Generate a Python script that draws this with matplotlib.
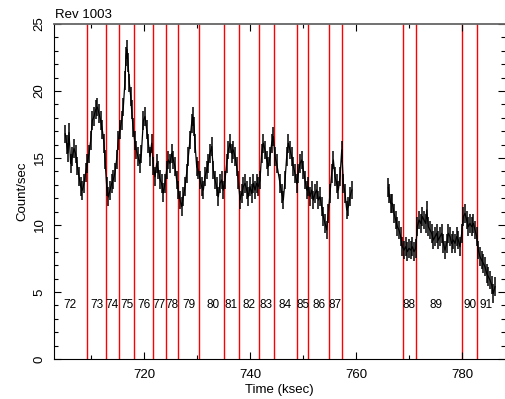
import matplotlib
matplotlib.use("Agg")
from matplotlib import pyplot as plt
from matplotlib.ticker import MultipleLocator

plt.rcParams['font.family'] = ['Liberation Sans', 'DejaVu Sans']

# light curve before the data gap (time in ksec, rate in count/sec)
time_a = [705.10, 705.35, 705.60, 705.79, 706.10, 706.42, 706.73, 707.05, 707.36, 707.68,
          707.99, 708.31, 708.62, 708.93, 709.25, 709.56, 709.88, 710.19, 710.51, 710.82,
          711.14, 711.45, 711.77, 712.08, 712.39, 712.58, 712.90, 713.21, 713.53, 713.84,
          714.15, 714.47, 714.78, 715.10, 715.41, 715.73, 716.04, 716.36, 716.54, 716.73,
          716.92, 717.17, 717.43, 717.61, 717.87, 718.18, 718.49, 718.81, 719.12, 719.44,
          719.82, 720.13, 720.44, 720.76, 721.07, 721.39, 721.70, 722.02, 722.33, 722.65,
          722.96, 723.27, 723.59, 723.90, 724.22, 724.53, 724.85, 725.16, 725.48, 725.79,
          726.10, 726.42, 726.73, 727.05, 727.36, 727.68, 727.99, 728.31, 728.62, 728.93,
          729.12, 729.38, 729.56, 729.88, 730.19, 730.51, 730.82, 731.14, 731.45, 731.77,
          732.08, 732.39, 732.71, 733.02, 733.34, 733.65, 733.97, 734.28, 734.60, 734.91,
          735.22, 735.54, 735.85, 736.17, 736.48, 736.80, 737.11, 737.43, 737.74, 738.05,
          738.37, 738.68, 739.00, 739.31, 739.63, 739.94, 740.26, 740.57, 740.88, 741.20,
          741.51, 741.83, 742.14, 742.46, 742.77, 743.09, 743.40, 743.72, 744.03, 744.35,
          744.66, 744.97, 745.60, 745.92, 746.23, 746.55, 746.86, 747.18, 747.49, 747.80,
          748.12, 748.43, 748.75, 749.06, 749.38, 749.69, 750.01, 750.32, 750.64, 750.95,
          751.26, 751.58, 751.89, 752.21, 752.52, 752.84, 753.15, 753.47, 753.78, 754.09,
          754.41, 754.72, 755.04, 755.35, 755.67, 755.98, 756.30, 756.61, 756.93, 757.24,
          757.55, 757.87, 758.18, 758.50, 758.81, 759.13]
rate_a = [16.8, 16.0, 15.4, 16.9, 14.6, 15.1, 15.7, 15.3, 14.4, 13.6,
          12.9, 12.6, 13.1, 13.9, 14.6, 15.3, 16.3, 17.8, 18.1, 18.6,
          18.8, 18.3, 17.8, 17.1, 16.1, 14.9, 12.9, 12.1, 12.6, 13.1,
          13.4, 13.9, 14.9, 16.3, 17.1, 17.8, 18.8, 20.8, 22.6, 23.1,
          22.1, 20.6, 19.6, 18.6, 17.3, 16.3, 15.6, 15.1, 14.6, 15.3,
          17.8, 18.1, 17.1, 16.1, 15.1, 16.1, 14.4, 13.6, 14.6, 14.1,
          13.4, 13.1, 12.4, 13.1, 14.1, 14.85, 14.6, 15.35, 14.85, 14.35,
          13.36, 12.61, 11.87, 11.37, 12.11, 12.86, 13.86, 15.10, 16.34, 17.59,
          18.08, 17.34, 16.10, 14.35, 14.10, 13.36, 12.86, 12.61, 13.61, 14.10,
          14.60, 15.35, 15.85, 14.10, 13.36, 12.86, 12.11, 13.11, 13.36, 12.61,
          13.36, 14.60, 15.60, 16.10, 15.35, 15.60, 15.10, 14.35, 13.36, 11.87,
          12.36, 12.86, 13.11, 12.61, 12.11, 12.86, 12.36, 13.11, 12.61, 13.11,
          12.86, 13.36, 15.35, 16.10, 15.60, 14.85, 14.35, 15.10, 16.10, 16.59,
          15.10, 14.60, 13.11, 12.36, 11.87, 13.36, 15.10, 16.10, 15.60, 15.10,
          14.35, 13.86, 13.11, 13.86, 14.60, 14.85, 14.10, 13.36, 12.61, 12.86,
          12.11, 12.61, 11.87, 12.36, 12.61, 11.87, 12.11, 11.37, 10.62, 10.12,
          9.63, 10.87, 12.36, 13.86, 14.85, 13.61, 13.11, 12.61, 13.61, 15.6,
          13.11, 12.36, 11.12, 11.37, 12.11, 12.61]

# light curve after the gap
time_b = [766.05, 766.17, 766.48, 766.80, 767.11, 767.43, 767.74, 768.05, 768.37, 768.68,
          769.00, 769.31, 769.63, 769.94, 770.26, 770.57, 770.88, 771.20, 771.51, 771.83,
          772.14, 772.46, 772.77, 773.09, 773.28, 773.59, 773.90, 774.22, 774.53, 774.85,
          775.16, 775.48, 775.79, 776.11, 776.42, 776.73, 777.05, 777.36, 777.68, 777.99,
          778.31, 778.62, 778.93, 779.25, 779.56, 779.88, 780.19, 780.50, 780.82, 781.13,
          781.45, 781.76, 782.08, 782.39, 782.71, 783.02, 783.33, 783.65, 783.96, 784.28,
          784.59, 784.91, 785.22, 785.54, 785.85, 786.16]
rate_b = [12.8, 12.36, 11.62, 11.62, 10.87, 10.37, 9.87, 9.63, 9.13, 8.38,
          8.13, 8.38, 8.01, 8.26, 8.13, 8.38, 8.01, 8.26, 9.87, 10.37,
          10.12, 10.62, 10.37, 10.12, 11.12, 9.87, 9.63, 9.38, 8.88, 9.13,
          9.38, 8.88, 9.13, 9.38, 8.63, 8.13, 8.63, 9.38, 9.13, 8.63,
          8.88, 8.63, 9.13, 8.88, 8.38, 9.38, 10.62, 10.87, 10.37, 9.87,
          10.12, 9.87, 10.12, 9.63, 9.13, 8.13, 7.63, 7.38, 7.13, 6.89,
          6.39, 6.14, 5.89, 5.52, 4.90, 5.40]

# revolution boundaries (red lines) and label positions
rev_bounds = [709.25, 712.77, 715.28, 718.11, 721.58, 724.09, 726.30, 730.32, 735.09, 737.92,
              741.70, 744.47, 748.75, 750.83, 754.79, 757.36, 768.81, 771.26, 780.00, 782.83]
rev_names = ['72', '73', '74', '75', '76', '77', '78', '79', '80', '81',
             '82', '83', '84', '85', '86', '87', '88', '89', '90', '91']
rev_label_x = [705.98, 711.02, 713.96, 716.68, 719.94, 722.83, 725.17, 728.49, 733.02, 736.36,
               739.81, 742.96, 746.49, 750.00, 753.02, 755.92, 770.00, 775.04, 781.45, 784.47]

fig = plt.figure(figsize=(5.05, 3.99), dpi=100)
ax = fig.add_axes([54/505, 1 - 359/399, 451/505, 335/399])

for t in rev_bounds:
    ax.axvline(t, color='red', lw=1.0, zorder=1)

for tt, rr in [(time_a, rate_a), (time_b, rate_b)]:
    ax.errorbar(tt, rr, yerr=0.7, fmt='none', ecolor='black', elinewidth=1.1, zorder=2)
    ax.plot(tt, rr, color='black', lw=0.9, zorder=2)

for x, name in zip(rev_label_x, rev_names):
    ax.text(x, 4.0, name, ha='center', va='center', fontsize=8.5, zorder=3)

ax.set_xlim(702.96, 788.05)
ax.set_ylim(0, 25)
ax.xaxis.set_major_locator(MultipleLocator(20))
ax.xaxis.set_minor_locator(MultipleLocator(10))
ax.yaxis.set_major_locator(MultipleLocator(5))
ax.yaxis.set_minor_locator(MultipleLocator(1))
ax.tick_params(which='both', direction='in', top=True, right=True, width=0.8)
ax.tick_params(which='major', length=5, labelsize=9.5, pad=7)
ax.tick_params(axis='y', which='major', pad=6)
ax.tick_params(which='minor', length=3)
for lab in ax.get_yticklabels():
    lab.set_rotation(90)
    lab.set_va('center')
ax.spines['right'].set_visible(False)
ax.spines['top'].set_color('#666666')
ax.spines['top'].set_linewidth(1.3)
ax.spines['left'].set_linewidth(0.8)
ax.spines['bottom'].set_linewidth(0.8)

ax.set_xlabel('Time (ksec)', fontsize=9.5, labelpad=2)
ax.set_ylabel('Count/sec', fontsize=9.5, labelpad=4)
fig.text(55/505, 1 - 18/399, 'Rev 1003', fontsize=9.5, ha='left', va='baseline')

fig.savefig('out.png', dpi=100)
